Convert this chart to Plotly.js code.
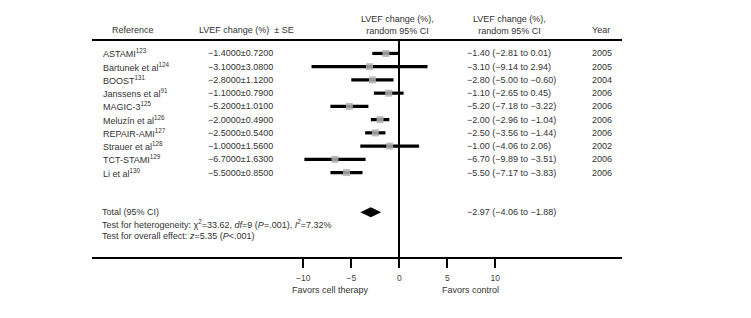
<!DOCTYPE html>
<html>
<head>
<meta charset="utf-8">
<script src="https://cdn.plot.ly/plotly-3.0.1.min.js"></script>
<style>html,body{margin:0;padding:0;background:#fff;}#chart{width:751px;height:318px;}</style>
</head>
<body>
<div id="chart"></div>
<script>
// ---- data ----
const studies = ["ASTAMI", "Bartunek et al", "BOOST", "Janssens et al", "MAGIC-3", "Meluzín et al", "REPAIR-AMI", "Strauer et al", "TCT-STAMI", "Li et al"];
const refs = ["123", "124", "131", "91", "125", "126", "127", "128", "129", "130"];
const means = [-1.40, -3.10, -2.80, -1.10, -5.20, -2.00, -2.50, -1.00, -6.70, -5.50];
const ses = [0.72, 3.08, 1.12, 0.79, 1.01, 0.49, 0.54, 1.56, 1.63, 0.85];
const ciLow = [-2.81, -9.14, -5.00, -2.65, -7.18, -2.96, -3.56, -4.06, -9.89, -7.17];
const ciHigh = [0.01, 2.94, -0.60, 0.45, -3.22, -1.04, -1.44, 2.06, -3.51, -3.83];
const years = ["2005", "2005", "2004", "2006", "2006", "2006", "2006", "2002", "2006", "2006"];
const totalMean = -2.97;
const totalLow = -4.06;
const totalHigh = -1.88;
const tickVals = [-10, -5, 0, 5, 10];
const tickLabels = ["−10", "−5", "0", "5", "10"];

// ---- layout helpers ----
const W = 751, H = 318;
const L = 92, R = 622, T = 41, B = 257;
const px = x => (x - L) / (R - L);
const py = y => (B - y) / (B - T);
const fmt = (v, d) => (v < 0 ? "−" : "") + Math.abs(v).toFixed(d);
const FONT = "Liberation Sans, Arial, sans-serif";
const TXT = "#333";
const FS = 9;

const rows = studies.map((_, i) => i);
const totalRow = 12;

const traces = [
  {
    type: "scatter", mode: "markers",
    x: means, y: rows,
    marker: {symbol: "square", size: 7, color: "#b0b0b0", opacity: 0.85},
    error_x: {
      type: "data", symmetric: false,
      array: means.map((m, i) => ciHigh[i] - m),
      arrayminus: means.map((m, i) => m - ciLow[i]),
      thickness: 3.2, width: 0, color: "#000"
    },
    hoverinfo: "skip", showlegend: false
  },
  {
    type: "scatter", mode: "lines",
    x: [totalLow, totalMean, totalHigh, totalMean, totalLow],
    y: [totalRow, totalRow - 0.38, totalRow, totalRow + 0.38, totalRow],
    fill: "toself", fillcolor: "#000", line: {width: 0, color: "#000"},
    hoverinfo: "skip", showlegend: false
  }
];

const ann = [];
function addText(text, x, y, anchor, opts) {
  ann.push(Object.assign({
    text: text, xref: "paper", yref: "y", x: px(x), y: y,
    xanchor: anchor, yanchor: "middle", showarrow: false,
    font: {family: FONT, size: FS, color: TXT}
  }, opts || {}));
}
function addHeader(text, x, ypix, anchor) {
  ann.push({
    text: text, xref: "paper", yref: "paper", x: px(x), y: py(ypix),
    xanchor: anchor, yanchor: "middle", showarrow: false, align: "center",
    font: {family: FONT, size: FS, color: TXT}
  });
}

// headers
addHeader("Reference", 133, 30, "center");
addHeader("LVEF change (%)  ± SE", 246, 30, "center");
addHeader("LVEF change (%),<br>random 95% CI", 397, 24.5, "center");
addHeader("LVEF change (%),<br>random 95% CI", 509, 24.5, "center");
addHeader("Year", 601, 30, "center");

// rows
studies.forEach((s, i) => {
  addText(s + "<sup>" + refs[i] + "</sup>", 101, i, "left");
  addText(fmt(means[i], 4) + "±" + ses[i].toFixed(4), 205.5, i, "left");
  addText(fmt(means[i], 2) + " (" + fmt(ciLow[i], 2) + " to " + fmt(ciHigh[i], 2) + ")", 465, i, "left");
  addText(years[i], 590, i, "left");
});

// totals
addText("Total (95% CI)", 100, totalRow, "left");
addText(fmt(totalMean, 2) + " (" + fmt(totalLow, 2) + " to " + fmt(totalHigh, 2) + ")", 464.5, totalRow, "left");
addText("Test for heterogeneity: χ<sup>2</sup>=33.62, <i>df</i>=9 (<i>P</i>=.001), <i>I</i><sup>2</sup>=7.32%", 100, 12.9, "left");
addText("Test for overall effect: <i>z</i>=5.35 (<i>P</i>&lt;.001)", 100, 13.8, "left");

// axis captions
addHeader("Favors cell therapy", 330, 290, "center");
addHeader("Favors control", 470, 290, "center");

const layout = {
  width: W, height: H,
  margin: {l: L, r: W - R, t: T, b: H - B, pad: 0},
  paper_bgcolor: "#fff", plot_bgcolor: "#fff",
  showlegend: false,
  xaxis: {
    range: [-32.01, 23.2],
    showgrid: false,
    zeroline: true, zerolinecolor: "#000", zerolinewidth: 2,
    showline: true, linecolor: "#000", linewidth: 2, mirror: true,
    ticks: "outside", ticklen: 9, tickwidth: 2, tickcolor: "#000",
    tickvals: tickVals, ticktext: tickLabels,
    ticklabelstandoff: 3,
    tickfont: {family: FONT, size: 8.5, color: "#444"},
    fixedrange: true
  },
  yaxis: {
    range: [15.38, -0.94],
    showgrid: false, zeroline: false, showline: false,
    showticklabels: false, ticks: "",
    fixedrange: true
  },
  annotations: ann
};

Plotly.newPlot("chart", traces, layout, {displayModeBar: false, staticPlot: true});
</script>
</body>
</html>
